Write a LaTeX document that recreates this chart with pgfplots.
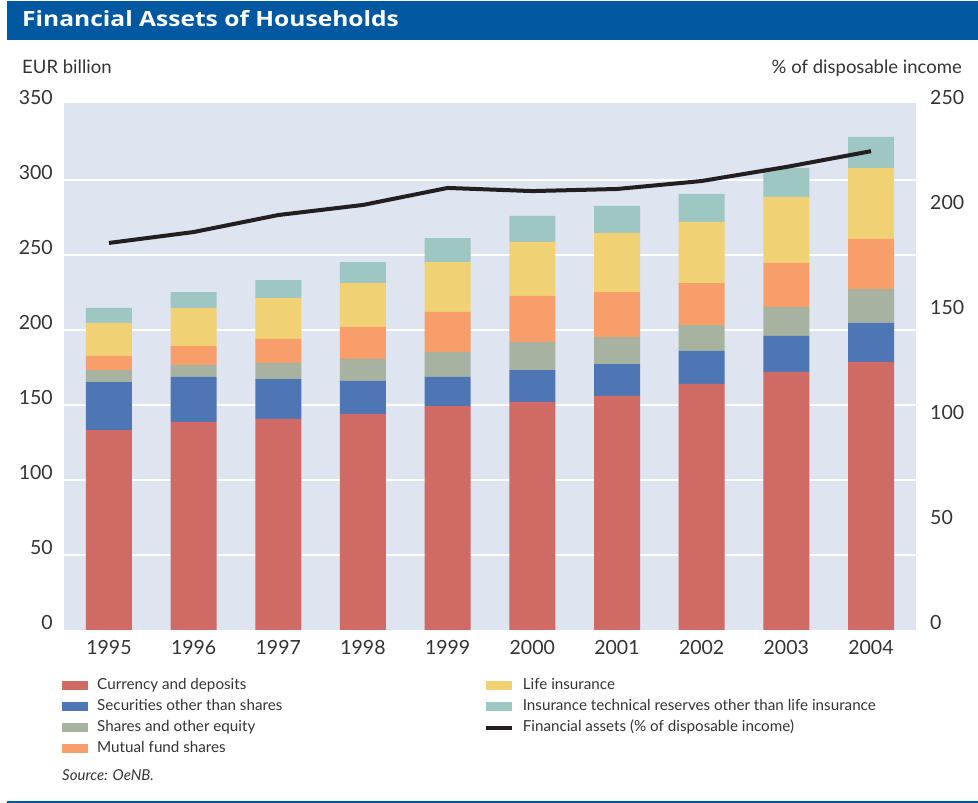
\documentclass[border=0pt]{standalone}
\usepackage{fontspec}
\setmainfont{Lato}
\newfontfamily\titlefont{Open Sans}
\usepackage{pgfplots}
\usepackage{pgfplotstable}
\pgfplotsset{compat=1.18}
\definecolor{cred}{HTML}{CF6A65}
\definecolor{cblue}{HTML}{4F76B4}
\definecolor{cgreen}{HTML}{A7B2A0}
\definecolor{corange}{HTML}{F89E6A}
\definecolor{cyellow}{HTML}{F0D275}
\definecolor{cteal}{HTML}{9EC6C2}
\definecolor{cbg}{HTML}{DFE4F1}
\definecolor{ctitle}{HTML}{0058A0}
\definecolor{cline}{HTML}{231F20}
\definecolor{ctxt}{HTML}{333333}
\pgfplotsset{
 swatch/.style={legend image code/.code={\fill[##1] (0pt,-4.5pt) rectangle (26pt,4.5pt);}},
 thickline/.style={legend image code/.code={\draw[##1] (0pt,0pt) -- (26pt,0pt);}},
}
\pgfplotstableread{
year cur sec sha mut life ins
1995 133.3 32.0 8.0 9.4 22.0 10.0
1996 138.7 30.0 8.0 12.6 25.4 10.6
1997 140.7 26.6 10.7 16.0 27.3 12.0
1998 144.0 22.0 14.7 21.3 29.3 14.0
1999 149.3 19.4 16.6 26.7 33.3 16.0
2000 152.0 21.3 18.7 30.7 36.0 17.3
2001 156.0 21.3 18.0 30.0 39.4 18.0
2002 164.0 22.0 17.3 28.0 40.7 18.7
2003 172.0 24.0 19.3 29.4 44.0 19.3
2004 178.7 26.0 22.6 33.4 47.3 20.7
}\assets
\pgfplotstableread{
year pct
1995 184.3
1996 189.5
1997 197.6
1998 202.4
1999 210.5
2000 209.0
2001 210.0
2002 213.8
2003 220.5
2004 228.0
}\ratio
\begin{document}
\begin{tikzpicture}[x=1pt,y=1pt]
\path[use as bounding box] (0,0) rectangle (978,803);
% title bar
\fill[ctitle] (7,763) rectangle (978,802);
\node[anchor=base west, inner sep=0pt, text=white, xscale=1.17, font=\titlefont\fontsize{21}{24}\selectfont\bfseries] at (22,776) {Financial Assets of Households};
\node[anchor=base west, inner sep=0pt, text=ctxt, font=\fontsize{18.5}{21}\selectfont] at (22,729) {EUR billion};
\node[anchor=base east, inner sep=0pt, text=ctxt, font=\fontsize{18.5}{21}\selectfont] at (962,729) {\% of disposable income};
\node[anchor=base west, inner sep=0pt, text=ctxt, font=\fontsize{15}{17}\selectfont\itshape] at (62,22) {Source: OeNB.};
\fill[ctitle] (7,0) rectangle (978,2);
\begin{axis}[
 at={(64pt,173pt)}, anchor=south west,
 scale only axis, width=852pt, height=527pt,
 xmin=1994.469, xmax=2004.531, ymin=0, ymax=351.33,
 ybar stacked, bar width=46pt,
 axis background/.style={fill=cbg},
 axis line style={draw=none},
 major tick length=0pt,
 ytick={0,50,...,350},
 extra y ticks={50,100,...,300}, extra y tick labels={},
 extra y tick style={grid=major, major grid style={white, line width=2.5pt}},
 xtick={1995,...,2004},
 xticklabel style={anchor=north, inner sep=0pt, yshift=-10pt},
 yticklabel style={anchor=south east, inner sep=0pt, xshift=-11pt},
 ticklabel style={font=\fontsize{19.5}{22}\selectfont, text=ctxt},
 /pgf/number format/assume math mode=true, /pgf/number format/1000 sep={},
 legend style={at={(-0.0023,-0.093)}, anchor=north west, draw=none, fill=none, inner sep=0pt,
   row sep=8pt, font=\fontsize{15.2}{17}\selectfont, text=ctxt,
   nodes={inner sep=0pt, text height=10pt, text depth=3pt},
   /tikz/every odd column/.append style={column sep=9pt}},
 legend cell align=left,
]
\addplot[fill=cred, draw=none, swatch] table[x=year,y=cur]{\assets};
\addlegendentry{Currency and deposits}
\addplot[fill=cblue, draw=none, swatch] table[x=year,y=sec]{\assets};
\addlegendentry{Securities other than shares}
\addplot[fill=cgreen, draw=none, swatch] table[x=year,y=sha]{\assets};
\addlegendentry{Shares and other equity}
\addplot[fill=corange, draw=none, swatch] table[x=year,y=mut]{\assets};
\addlegendentry{Mutual fund shares}
\addplot[fill=cyellow, draw=none, swatch] table[x=year,y=life]{\assets};
\addplot[fill=cteal, draw=none, swatch] table[x=year,y=ins]{\assets};
\end{axis}
\begin{axis}[
 at={(64pt,173pt)}, anchor=south west,
 scale only axis, width=852pt, height=527pt,
 xmin=1994.469, xmax=2004.531, ymin=0, ymax=250.95,
 axis line style={draw=none},
 major tick length=0pt,
 xtick=\empty,
 ytick={0,50,...,250},
 yticklabel pos=right,
 yticklabel style={anchor=south west, inner sep=0pt, xshift=14pt},
 ticklabel style={font=\fontsize{19.5}{22}\selectfont, text=ctxt},
 /pgf/number format/assume math mode=true,
 legend style={at={(0.4925,-0.093)}, anchor=north west, draw=none, fill=none, inner sep=0pt,
   row sep=8pt, font=\fontsize{15.2}{17}\selectfont, text=ctxt,
   nodes={inner sep=0pt, text height=10pt, text depth=3pt},
   /tikz/every odd column/.append style={column sep=9pt}},
 legend cell align=left,
]
\addlegendimage{fill=cyellow, draw=none, swatch}
\addlegendentry{Life insurance}
\addlegendimage{fill=cteal, draw=none, swatch}
\addlegendentry{Insurance technical reserves other than life insurance}
\addplot[cline, line width=4pt, line join=round, thickline] table[x=year,y=pct]{\ratio};
\addlegendentry{Financial assets (\% of disposable income)}
\end{axis}
\end{tikzpicture}
\end{document}
